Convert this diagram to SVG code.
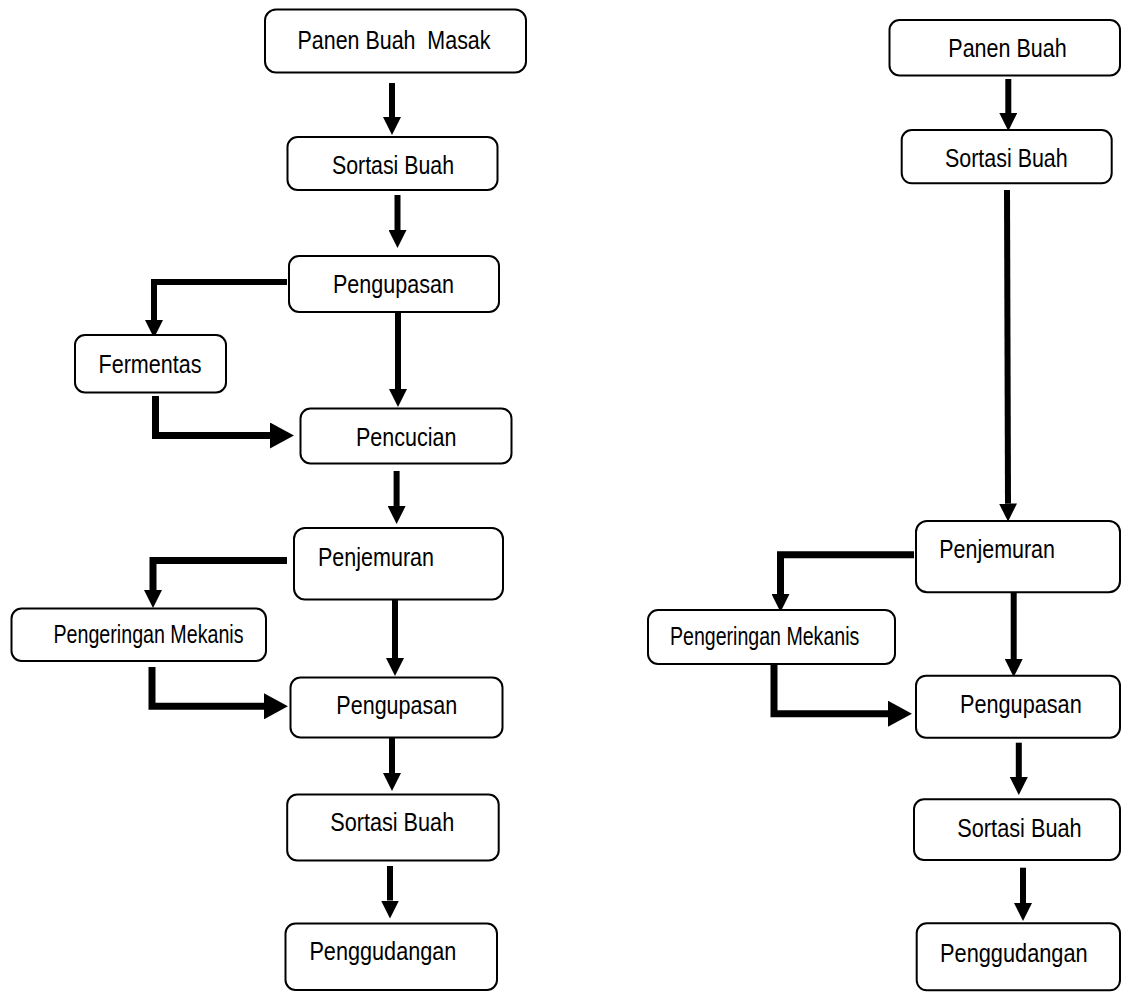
<svg xmlns="http://www.w3.org/2000/svg" width="1122" height="992" viewBox="0 0 1122 992">
<defs>
<style>
.box{fill:#fff;stroke:#000;stroke-width:2}
.lbl{font-family:"Liberation Sans",Arial,sans-serif;font-size:25px;fill:#000}
.c{fill:none;stroke:#000;stroke-width:6;stroke-linejoin:miter}
.cb{fill:none;stroke:#000;stroke-width:7;stroke-linejoin:miter}
</style>
<marker id="ah" markerUnits="userSpaceOnUse" markerWidth="18" markerHeight="18" refX="0" refY="8.5" orient="auto" viewBox="0 0 17 17">
<path d="M0,0 L17,8.5 L0,17 z" fill="#000"/>
</marker>
<marker id="ahb" markerUnits="userSpaceOnUse" markerWidth="24" markerHeight="26" refX="0" refY="12.5" orient="auto" viewBox="0 0 23 25">
<path d="M0,0 L23,12.5 L0,25 z" fill="#000"/>
</marker>
</defs>
<rect width="1122" height="992" fill="#fff"/>
<g id="connectors">
<line class="c" x1="392" y1="83" x2="392" y2="117" marker-end="url(#ah)"/>
<line class="c" x1="397.5" y1="195" x2="397.5" y2="230" marker-end="url(#ah)"/>
<line class="c" x1="398" y1="312" x2="398" y2="389" marker-end="url(#ah)"/>
<polyline class="c" points="287,282 154,282 154,320" marker-end="url(#ah)"/>
<polyline class="cb" points="155.5,396 155.5,435.5 270,435.5" marker-end="url(#ahb)"/>
<line class="c" x1="396.6" y1="471" x2="396.6" y2="506" marker-end="url(#ah)"/>
<polyline class="cb" points="287,560.5 153,560.5 153,590" marker-end="url(#ah)"/>
<polyline class="cb" points="152,667 152,706.3 264,706.3" marker-end="url(#ahb)"/>
<line class="c" x1="395" y1="599.5" x2="395" y2="658" marker-end="url(#ah)"/>
<line class="c" x1="392" y1="738" x2="392" y2="773" marker-end="url(#ah)"/>
<line class="c" x1="390" y1="866" x2="390" y2="900.5" marker-end="url(#ah)"/>
<line class="c" x1="1008.3" y1="79" x2="1008.3" y2="113" marker-end="url(#ah)"/>
<line class="c" x1="1007" y1="190" x2="1008" y2="503.5" marker-end="url(#ah)"/>
<polyline class="cb" points="914,554.7 780.5,554.7 780.5,594" marker-end="url(#ah)"/>
<polyline class="cb" points="774,664 774,713.7 888,713.7" marker-end="url(#ahb)"/>
<line class="c" x1="1013.7" y1="592.3" x2="1013.7" y2="659" marker-end="url(#ah)"/>
<line class="c" x1="1018.8" y1="742.7" x2="1018.8" y2="777" marker-end="url(#ah)"/>
<line class="c" x1="1023" y1="867.7" x2="1023" y2="903" marker-end="url(#ah)"/>
</g>
<g id="n-panen-masak"><rect class="box" x="265" y="9.5" width="261" height="63" rx="11"/><text class="lbl" x="297.5" y="48.5" textLength="193" lengthAdjust="spacingAndGlyphs" xml:space="preserve">Panen Buah  Masak</text></g>
<g id="n-sortasi-1"><rect class="box" x="287.5" y="137" width="210" height="53" rx="10"/><text class="lbl" x="332" y="173.5" textLength="122" lengthAdjust="spacingAndGlyphs">Sortasi Buah</text></g>
<g id="n-pengupasan-1"><rect class="box" x="289" y="256" width="210" height="56" rx="10"/><text class="lbl" x="333" y="292.5" textLength="121" lengthAdjust="spacingAndGlyphs">Pengupasan</text></g>
<g id="n-fermentas"><rect class="box" x="75" y="335" width="151" height="57.5" rx="10"/><text class="lbl" x="98.5" y="372.5" textLength="103" lengthAdjust="spacingAndGlyphs">Fermentas</text></g>
<g id="n-pencucian"><rect class="box" x="300.5" y="408.5" width="211" height="55" rx="10"/><text class="lbl" x="356" y="445.5" textLength="100.5" lengthAdjust="spacingAndGlyphs">Pencucian</text></g>
<g id="n-penjemuran-1"><rect class="box" x="294" y="528" width="209" height="71.5" rx="11"/><text class="lbl" x="318" y="565.5" textLength="116" lengthAdjust="spacingAndGlyphs">Penjemuran</text></g>
<g id="n-pengeringan-1"><rect class="box" x="11.5" y="608.5" width="254.5" height="52.5" rx="10"/><text class="lbl" x="53.5" y="643.3" textLength="190" lengthAdjust="spacingAndGlyphs">Pengeringan Mekanis</text></g>
<g id="n-pengupasan-2"><rect class="box" x="290.5" y="677.5" width="212" height="60" rx="10"/><text class="lbl" x="336.3" y="714.3" textLength="121" lengthAdjust="spacingAndGlyphs">Pengupasan</text></g>
<g id="n-sortasi-2"><rect class="box" x="287.2" y="794.5" width="211.5" height="66" rx="10"/><text class="lbl" x="330.2" y="831" textLength="124" lengthAdjust="spacingAndGlyphs">Sortasi Buah</text></g>
<g id="n-penggudangan-1"><rect class="box" x="285.5" y="923.5" width="211.5" height="66.5" rx="10"/><text class="lbl" x="309.4" y="960" textLength="147" lengthAdjust="spacingAndGlyphs">Penggudangan</text></g>
<g id="n-panen-r"><rect class="box" x="889.5" y="20" width="230.5" height="55.5" rx="10"/><text class="lbl" x="948.3" y="57.3" textLength="118.4" lengthAdjust="spacingAndGlyphs">Panen Buah</text></g>
<g id="n-sortasi-r1"><rect class="box" x="901.7" y="130" width="210" height="53.3" rx="10"/><text class="lbl" x="945" y="166.7" textLength="122.7" lengthAdjust="spacingAndGlyphs">Sortasi Buah</text></g>
<g id="n-penjemuran-r"><rect class="box" x="916" y="521" width="204" height="71.3" rx="11"/><text class="lbl" x="939.3" y="558.3" textLength="115.7" lengthAdjust="spacingAndGlyphs">Penjemuran</text></g>
<g id="n-pengeringan-r"><rect class="box" x="648" y="610" width="247" height="54" rx="10"/><text class="lbl" x="670" y="645" textLength="189.3" lengthAdjust="spacingAndGlyphs">Pengeringan Mekanis</text></g>
<g id="n-pengupasan-r"><rect class="box" x="916" y="675.7" width="204" height="62" rx="10"/><text class="lbl" x="960" y="713.3" textLength="121.7" lengthAdjust="spacingAndGlyphs">Pengupasan</text></g>
<g id="n-sortasi-r2"><rect class="box" x="914" y="799.3" width="206" height="60.7" rx="10"/><text class="lbl" x="957.3" y="836.7" textLength="124.4" lengthAdjust="spacingAndGlyphs">Sortasi Buah</text></g>
<g id="n-penggudangan-r"><rect class="box" x="916.7" y="923.3" width="203.3" height="67" rx="10"/><text class="lbl" x="940" y="961.7" textLength="147.7" lengthAdjust="spacingAndGlyphs">Penggudangan</text></g>
</svg>
